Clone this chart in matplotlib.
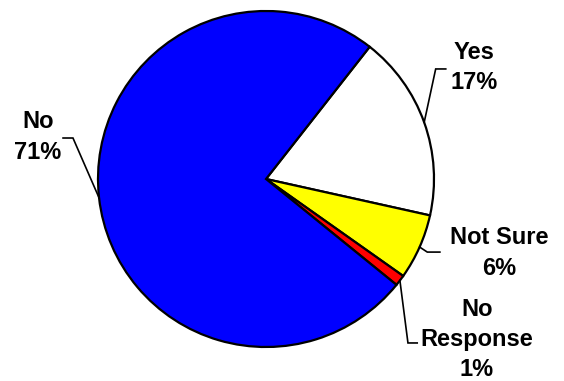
import numpy as np
import matplotlib
matplotlib.use('Agg')
import matplotlib.pyplot as plt

labels = ['Yes', 'Not Sure', 'No\nResponse', 'No']
values = [17, 6, 1, 71]
colors = ['#ffffff', '#ffff00', '#ff0000', '#0000ff']

# where each label sits, with the knee and end of its leader line
text_pos = [(1.24, 0.665), (1.39, -0.44), (1.256, -0.955), (-1.357, 0.25)]
knees = [(1.01, 0.655), (0.96, -0.435), (0.845, -0.976), (-1.149, 0.244)]
ends = [(1.07, 0.655), (1.035, -0.435), (0.9, -0.976), (-1.208, 0.244)]

plt.rcParams['font.family'] = ['Liberation Sans', 'DejaVu Sans']

fig = plt.figure(figsize=(5.64, 3.81), dpi=100)
ax = fig.add_axes([0, 0, 1, 1])

wedges, _ = ax.pie(values, colors=colors, startangle=51.9, counterclock=False,
                   radius=1.0, wedgeprops=dict(edgecolor='black', linewidth=1.6))

for w, lab, v, tp, kn, en in zip(wedges, labels, values, text_pos, knees, ends):
    mid = np.deg2rad((w.theta1 + w.theta2) / 2)
    ex, ey = np.cos(mid), np.sin(mid)
    ax.plot([ex, kn[0], en[0]], [ey, kn[1], en[1]], color='black', lw=1.2,
            solid_joinstyle='miter')
    ax.text(tp[0], tp[1], f'{lab}\n{v}%', ha='center', va='center',
            fontsize=17, fontweight='bold', linespacing=1.4)

ax.set_xlim(-266 / 168, 298 / 168)
ax.set_ylim(-202 / 168, 179 / 168)
ax.set_aspect('equal')
ax.axis('off')

fig.savefig('out.png', dpi=100)
